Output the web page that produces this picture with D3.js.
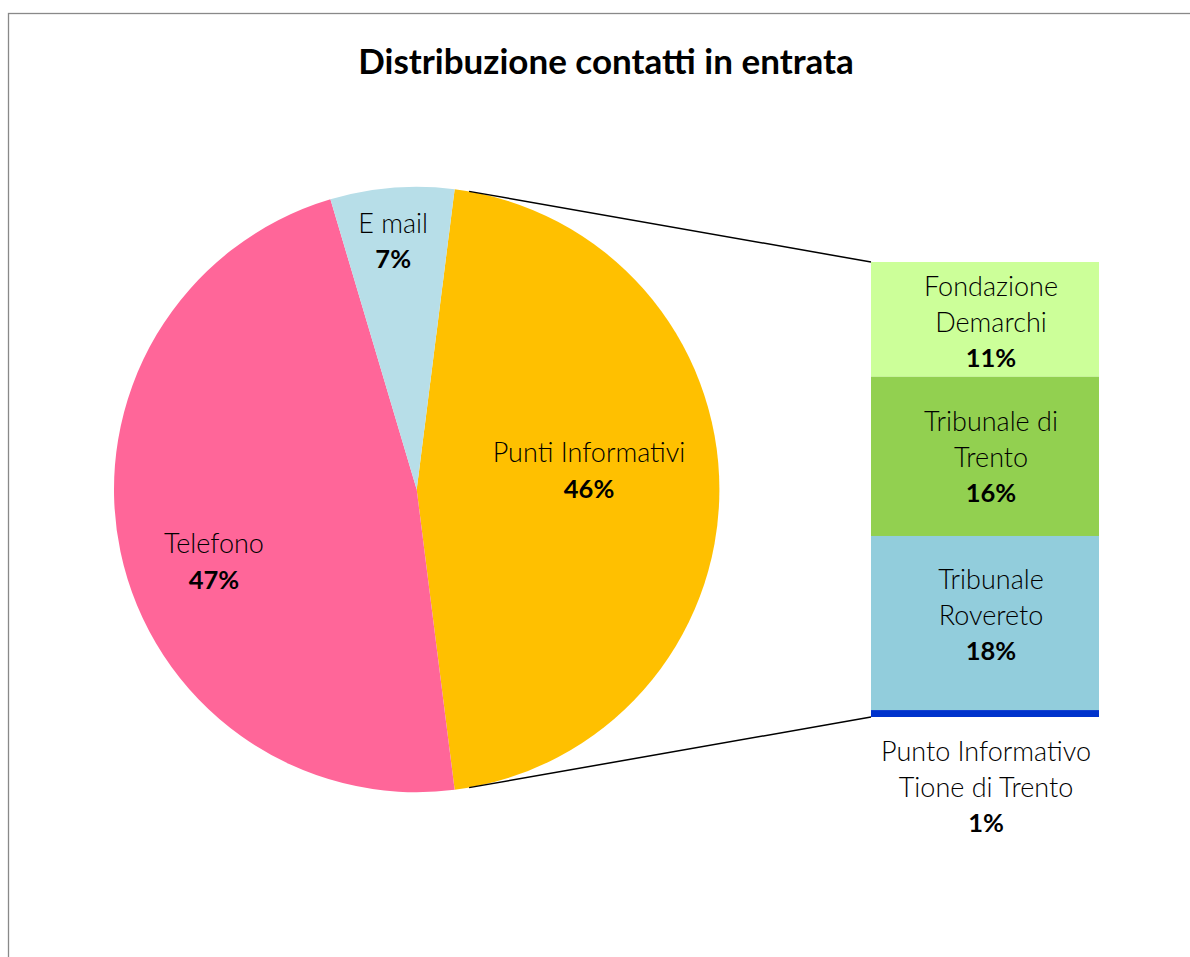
<!DOCTYPE html>
<html>
<head>
<meta charset="utf-8">
<script src="https://cdn.jsdelivr.net/npm/d3@7"></script>
<style>
  html, body { margin: 0; padding: 0; background: #fff; }
  svg { display: block; }
  text { font-family: Lato, "Open Sans", sans-serif; fill: #000; }
</style>
</head>
<body>
<svg id="chart" width="1190" height="957"></svg>
<script>
// ---------- data ----------
const chartTitle = "Distribuzione contatti in entrata";
const pieCategories = ["Telefono", "E mail", "Punti Informativi"];
const pieValues = [47.4, 6.6, 46.0];
const pieLabels = ["47%", "7%", "46%"];
const pieColors = ["#FF6699", "#B7DEE8", "#FFC000"];

const barCategories = [["Fondazione", "Demarchi"], ["Tribunale di", "Trento"], ["Tribunale", "Rovereto"], ["Punto Informativo", "Tione di Trento"]];
const barValues = [11.6, 16.1, 17.6, 0.7];
const barLabels = ["11%", "16%", "18%", "1%"];
const barColors = ["#CCFF99", "#92D050", "#92CDDC", "#0033CC"];

// ---------- layout ----------
const svg = d3.select("#chart");
const W = 1190, H = 957;
const cx = 416.7, cy = 489.5, R = 302.7;
const barX0 = 871, barX1 = 1099, barY0 = 262, barY1 = 717;
const labelFont = 27, pctFont = 25.5, lineGap = 36;
const labelWeight = 300;

// frame
svg.append("rect").attr("x", 8.5).attr("y", 13.5).attr("width", W + 20).attr("height", H + 20)
  .attr("fill", "#fff").attr("stroke", "#898989").attr("stroke-width", 1.3);

// title
svg.append("text").attr("x", 606).attr("y", 60).attr("text-anchor", "middle")
  .attr("dominant-baseline", "central").style("font-size", "35px").style("font-weight", 700)
  .text(chartTitle);

// ---------- pie ----------
const otherIdx = 2;
const otherSpan = pieValues[otherIdx] / d3.sum(pieValues) * 2 * Math.PI;
const startA = Math.PI / 2 - otherSpan / 2;
const order = [2, 0, 1];
const pie = d3.pie().sort(null).value(i => pieValues[i]).startAngle(startA).endAngle(startA + 2 * Math.PI);
const arcs = pie(order);
const arc = d3.arc().innerRadius(0).outerRadius(R);
const gPie = svg.append("g").attr("transform", `translate(${cx},${cy})`);
gPie.selectAll("path").data(arcs).join("path")
  .attr("d", arc).attr("fill", d => pieColors[d.data]);

// pie labels (radius and angular nudge per slice, Excel best-fit placement)
const pieLabelLayout = { 0: { r: 215, dA: -7.5 }, 1: { r: 250.6, dA: -0.7 }, 2: { r: 173.5, dA: -6.6 } };
arcs.forEach(d => {
  const i = d.data;
  const mid = (d.startAngle + d.endAngle) / 2 + pieLabelLayout[i].dA * Math.PI / 180;
  const lx = cx + pieLabelLayout[i].r * Math.sin(mid);
  const ly = cy - pieLabelLayout[i].r * Math.cos(mid);
  svg.append("text").attr("x", lx).attr("y", ly - lineGap / 2).attr("text-anchor", "middle")
    .attr("dominant-baseline", "central").style("font-size", labelFont + "px").style("font-weight", labelWeight).text(pieCategories[i]);
  svg.append("text").attr("x", lx).attr("y", ly + lineGap / 2).attr("text-anchor", "middle")
    .attr("dominant-baseline", "central").style("font-size", pctFont + "px").style("font-weight", 700).text(pieLabels[i]);
});

// ---------- bar ----------
const y = d3.scaleLinear().domain([0, d3.sum(barValues)]).range([barY0, barY1]);
const stacked = [];
let acc = 0;
barValues.forEach((v, i) => { stacked.push({ i, y0: acc, y1: acc + v }); acc += v; });
svg.append("g").selectAll("rect").data(stacked).join("rect")
  .attr("x", barX0).attr("width", barX1 - barX0)
  .attr("y", d => y(d.y0)).attr("height", d => y(d.y1) - y(d.y0))
  .attr("fill", d => barColors[d.i]);

// connector lines: tangent from bar corners to pie
function tangentPoint(px, py, side) {
  const dx = px - cx, dy = py - cy;
  const d = Math.hypot(dx, dy);
  const base = Math.atan2(dy, dx);
  const t = Math.acos(R / d);
  const a = base + side * t;
  return [cx + R * Math.cos(a), cy + R * Math.sin(a)];
}
const topT = tangentPoint(barX0, barY0, -1);
const botT = tangentPoint(barX0, barY1, 1);
svg.append("line").attr("x1", topT[0]).attr("y1", topT[1]).attr("x2", barX0).attr("y2", barY0)
  .attr("stroke", "#000").attr("stroke-width", 1.5);
svg.append("line").attr("x1", botT[0]).attr("y1", botT[1]).attr("x2", barX0).attr("y2", barY1)
  .attr("stroke", "#000").attr("stroke-width", 1.5);

// bar labels
const barLabelNudge = [3, 1, -8, 0];
stacked.forEach(d => {
  const small = (y(d.y1) - y(d.y0)) < 3 * lineGap;
  const lx = small ? 986 : 991;
  const yc = (small ? y(d.y1) + 69 : (y(d.y0) + y(d.y1)) / 2 - 1) + barLabelNudge[d.i];
  const lines = barCategories[d.i];
  lines.forEach((t, k) => {
    svg.append("text").attr("x", lx).attr("y", yc + (k - 1) * lineGap).attr("text-anchor", "middle")
      .attr("dominant-baseline", "central").style("font-size", labelFont + "px").style("font-weight", labelWeight).text(t);
  });
  svg.append("text").attr("x", lx).attr("y", yc + lineGap).attr("text-anchor", "middle")
    .attr("dominant-baseline", "central").style("font-size", pctFont + "px").style("font-weight", 700).text(barLabels[d.i]);
});
</script>
</body>
</html>
